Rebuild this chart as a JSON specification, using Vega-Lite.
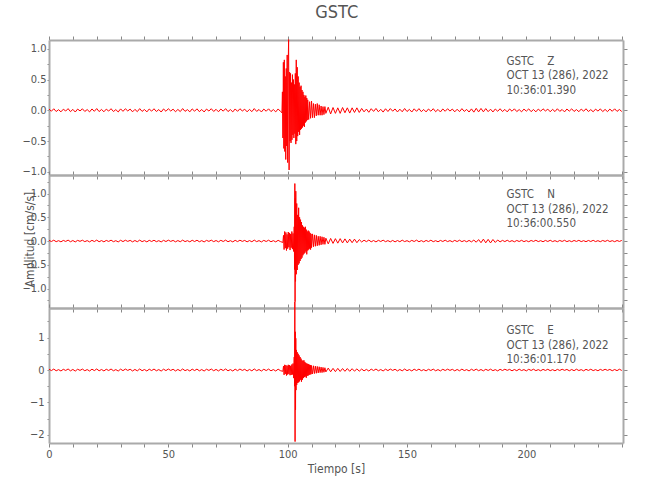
{
"$schema":"https://vega.github.io/schema/vega-lite/v6.json",
"padding":{"left":21,"top":3,"right":5,"bottom":5},
"bounds":"flush",
"spacing":0,
"title":{"text":"GSTC","fontSize":18,"font":"DejaVu Sans Condensed, Liberation Sans Narrow, Liberation Sans, sans-serif","fontWeight":"normal","color":"#555555","anchor":"middle","offset":14,"dx":12},
"config":{"view":{"stroke":null},"font":"DejaVu Sans Condensed, Liberation Sans Narrow, Liberation Sans, sans-serif",
"axis":{"domainColor":"#aaaaaa","domainWidth":2,"tickColor":"#888888","tickWidth":1,"labelColor":"#555555","labelFontSize":11,"labelFont":"DejaVu Sans Condensed, Liberation Sans Narrow, Liberation Sans, sans-serif","grid":false,"titleColor":"#555555","titleFont":"DejaVu Sans Condensed, Liberation Sans Narrow, Liberation Sans, sans-serif","titleFontWeight":"normal","titleFontSize":12,"labelOverlap":false,"labelFlush":false}},
"datasets":{
"z":[{"t":0,"a":0.02},{"t":1,"a":-0.015},{"t":2,"a":0.025},{"t":3,"a":-0.02},{"t":4,"a":0.01},{"t":5,"a":-0.025},{"t":6,"a":0.018},{"t":7,"a":-0.012},{"t":8,"a":0.027},{"t":9,"a":-0.022},{"t":10,"a":0.015},{"t":11,"a":-0.028},{"t":12,"a":0.02},{"t":13,"a":-0.01},{"t":14,"a":0.024},{"t":15,"a":-0.019},{"t":16,"a":0.012},{"t":17,"a":-0.026},{"t":18,"a":0.022},{"t":19,"a":-0.016},{"t":20,"a":0.028},{"t":21,"a":-0.021},{"t":22,"a":0.014},{"t":23,"a":-0.024},{"t":24,"a":0.019},{"t":25,"a":-0.013},{"t":26,"a":0.026},{"t":27,"a":-0.02},{"t":28,"a":0.011},{"t":29,"a":-0.027},{"t":30,"a":0.023},{"t":31,"a":-0.017},{"t":32,"a":0.025},{"t":33,"a":-0.011},{"t":34,"a":0.02},{"t":35,"a":-0.025},{"t":36,"a":0.015},{"t":37,"a":-0.022},{"t":38,"a":0.027},{"t":39,"a":-0.018},{"t":40,"a":0.013},{"t":41,"a":-0.026},{"t":42,"a":0.021},{"t":43,"a":-0.014},{"t":44,"a":0.025},{"t":45,"a":-0.02},{"t":46,"a":0.012},{"t":47,"a":-0.028},{"t":48,"a":0.022},{"t":49,"a":-0.016},{"t":50,"a":0.026},{"t":51,"a":-0.012},{"t":52,"a":0.019},{"t":53,"a":-0.024},{"t":54,"a":0.014},{"t":55,"a":-0.021},{"t":56,"a":0.028},{"t":57,"a":-0.017},{"t":58,"a":0.011},{"t":59,"a":-0.025},{"t":60,"a":0.023},{"t":61,"a":-0.015},{"t":62,"a":0.024},{"t":63,"a":-0.022},{"t":64,"a":0.013},{"t":65,"a":-0.027},{"t":66,"a":0.02},{"t":67,"a":-0.012},{"t":68,"a":0.026},{"t":69,"a":-0.019},{"t":70,"a":0.016},{"t":71,"a":-0.024},{"t":72,"a":0.021},{"t":73,"a":-0.014},{"t":74,"a":0.027},{"t":75,"a":-0.021},{"t":76,"a":0.012},{"t":77,"a":-0.026},{"t":78,"a":0.022},{"t":79,"a":-0.017},{"t":80,"a":0.025},{"t":81,"a":-0.011},{"t":82,"a":0.018},{"t":83,"a":-0.025},{"t":84,"a":0.015},{"t":85,"a":-0.022},{"t":86,"a":0.028},{"t":87,"a":-0.018},{"t":88,"a":0.013},{"t":89,"a":-0.027},{"t":90,"a":0.02},{"t":91,"a":-0.015},{"t":92,"a":0.024},{"t":93,"a":-0.021},{"t":94,"a":0.012},{"t":95,"a":-0.026},{"t":96,"a":0.022},{"t":97,"a":-0.018},
{"t":97.6,"a":-0.04},{"t":97.8,"a":0.3},{"t":98.0,"a":-0.45},{"t":98.2,"a":0.78},{"t":98.4,"a":-0.62},{"t":98.6,"a":0.82},{"t":98.8,"a":-0.67},{"t":99.0,"a":0.55},{"t":99.2,"a":-0.8},{"t":99.4,"a":0.68},{"t":99.6,"a":-0.58},{"t":99.8,"a":0.9},{"t":100.0,"a":-0.85},{"t":100.2,"a":0.7},{"t":100.4,"a":1.15},{"t":100.6,"a":-0.97},{"t":100.8,"a":0.62},{"t":101.0,"a":-0.5},{"t":101.2,"a":0.6},{"t":101.4,"a":-0.53},{"t":101.6,"a":0.45},{"t":101.8,"a":-0.48},{"t":102.0,"a":0.58},{"t":102.2,"a":-0.4},{"t":102.4,"a":0.5},{"t":102.6,"a":-0.45},{"t":102.8,"a":0.42},{"t":103.0,"a":-0.38},{"t":103.2,"a":0.6},{"t":103.4,"a":-0.55},{"t":103.6,"a":0.82},{"t":103.8,"a":-0.5},{"t":104.0,"a":0.7},{"t":104.2,"a":-0.42},{"t":104.4,"a":0.55},{"t":104.6,"a":-0.35},{"t":104.8,"a":0.45},{"t":105.0,"a":-0.4},{"t":105.2,"a":0.38},{"t":105.4,"a":-0.32},{"t":105.6,"a":0.4},{"t":105.8,"a":-0.3},{"t":106.0,"a":0.33},{"t":106.2,"a":-0.28},{"t":106.4,"a":0.3},{"t":106.6,"a":-0.25},{"t":106.8,"a":0.25},{"t":107.0,"a":-0.27},{"t":107.2,"a":0.22},{"t":107.4,"a":-0.2},{"t":107.6,"a":0.24},{"t":107.8,"a":-0.18},{"t":108.0,"a":0.2},{"t":108.2,"a":-0.16},{"t":108.4,"a":0.17},{"t":108.8,"a":-0.15},{"t":109.2,"a":0.14},{"t":109.6,"a":-0.13},{"t":110.0,"a":0.15},{"t":110.4,"a":-0.12},{"t":110.8,"a":0.11},{"t":111.2,"a":-0.12},{"t":111.6,"a":0.1},{"t":112.0,"a":-0.09},{"t":112.4,"a":0.11},{"t":112.8,"a":-0.08},{"t":113.2,"a":0.09},{"t":113.6,"a":-0.08},{"t":114.0,"a":0.07},{"t":114.4,"a":-0.08},{"t":114.8,"a":0.06},{"t":115.2,"a":-0.07},{"t":115.6,"a":0.06},{"t":116.0,"a":-0.05},
{"t":117,"a":0.05},{"t":118,"a":-0.06},{"t":119,"a":0.045},{"t":120,"a":-0.05},{"t":121,"a":0.04},{"t":122,"a":-0.05},{"t":123,"a":0.045},{"t":124,"a":-0.04},{"t":125,"a":0.04},{"t":126,"a":-0.045},{"t":127,"a":0.04},{"t":128,"a":-0.035},{"t":129,"a":0.04},{"t":130,"a":-0.035},
{"t":131,"a":0.03},{"t":132,"a":-0.025},{"t":133,"a":0.02},{"t":134,"a":-0.032},{"t":135,"a":0.026},{"t":136,"a":-0.018},{"t":137,"a":0.03},{"t":138,"a":-0.024},{"t":139,"a":0.016},{"t":140,"a":-0.029},{"t":141,"a":0.025},{"t":142,"a":-0.02},{"t":143,"a":0.028},{"t":144,"a":-0.014},{"t":145,"a":0.022},{"t":146,"a":-0.027},{"t":147,"a":0.018},{"t":148,"a":-0.024},{"t":149,"a":0.029},{"t":150,"a":-0.02},{"t":151,"a":0.015},{"t":152,"a":-0.028},{"t":153,"a":0.024},{"t":154,"a":-0.017},{"t":155,"a":0.027},{"t":156,"a":-0.022},{"t":157,"a":0.013},{"t":158,"a":-0.026},{"t":159,"a":0.021},{"t":160,"a":-0.015},{"t":161,"a":0.026},{"t":162,"a":-0.023},{"t":163,"a":0.014},{"t":164,"a":-0.027},{"t":165,"a":0.022},{"t":166,"a":-0.016},{"t":167,"a":0.025},{"t":168,"a":-0.012},{"t":169,"a":0.02},{"t":170,"a":-0.025},{"t":171,"a":0.017},{"t":172,"a":-0.022},{"t":173,"a":0.027},{"t":174,"a":-0.018},{"t":175,"a":0.014},{"t":176,"a":-0.028},{"t":177,"a":0.023},{"t":178,"a":-0.03},{"t":179,"a":0.032},{"t":180,"a":-0.026},{"t":181,"a":0.03},{"t":182,"a":-0.025},{"t":183,"a":0.028},{"t":184,"a":-0.022},{"t":185,"a":0.018},{"t":186,"a":-0.027},{"t":187,"a":0.021},{"t":188,"a":-0.016},{"t":189,"a":0.025},{"t":190,"a":-0.02},{"t":191,"a":0.014},{"t":192,"a":-0.026},{"t":193,"a":0.022},{"t":194,"a":-0.015},{"t":195,"a":0.024},{"t":196,"a":-0.021},{"t":197,"a":0.012},{"t":198,"a":-0.025},{"t":199,"a":0.02},{"t":200,"a":-0.014},{"t":201,"a":0.023},{"t":202,"a":-0.022},{"t":203,"a":0.013},{"t":204,"a":-0.025},{"t":205,"a":0.02},{"t":206,"a":-0.015},{"t":207,"a":0.024},{"t":208,"a":-0.011},{"t":209,"a":0.019},{"t":210,"a":-0.024},{"t":211,"a":0.016},{"t":212,"a":-0.021},{"t":213,"a":0.025},{"t":214,"a":-0.017},{"t":215,"a":0.013},{"t":216,"a":-0.026},{"t":217,"a":0.021},{"t":218,"a":-0.014},{"t":219,"a":0.024},{"t":220,"a":-0.019},{"t":221,"a":0.012},{"t":222,"a":-0.023},{"t":223,"a":0.02},{"t":224,"a":-0.015},{"t":225,"a":0.025},{"t":226,"a":-0.02},{"t":227,"a":0.011},{"t":228,"a":-0.024},{"t":229,"a":0.019},{"t":230,"a":-0.013},{"t":231,"a":0.023},{"t":232,"a":-0.021},{"t":233,"a":0.014},{"t":234,"a":-0.022},{"t":235,"a":0.02},{"t":236,"a":-0.016},{"t":237,"a":0.024},{"t":238,"a":-0.018},{"t":239,"a":0.013},{"t":240,"a":-0.02}],
"n":[{"t":0,"a":0.014},{"t":1,"a":-0.01},{"t":2,"a":0.018},{"t":3,"a":-0.014},{"t":4,"a":0.008},{"t":5,"a":-0.017},{"t":6,"a":0.013},{"t":7,"a":-0.009},{"t":8,"a":0.019},{"t":9,"a":-0.015},{"t":10,"a":0.011},{"t":11,"a":-0.019},{"t":12,"a":0.014},{"t":13,"a":-0.007},{"t":14,"a":0.017},{"t":15,"a":-0.013},{"t":16,"a":0.009},{"t":17,"a":-0.018},{"t":18,"a":0.015},{"t":19,"a":-0.011},{"t":20,"a":0.019},{"t":21,"a":-0.015},{"t":22,"a":0.01},{"t":23,"a":-0.017},{"t":24,"a":0.013},{"t":25,"a":-0.009},{"t":26,"a":0.018},{"t":27,"a":-0.014},{"t":28,"a":0.008},{"t":29,"a":-0.019},{"t":30,"a":0.016},{"t":31,"a":-0.012},{"t":32,"a":0.017},{"t":33,"a":-0.008},{"t":34,"a":0.014},{"t":35,"a":-0.017},{"t":36,"a":0.011},{"t":37,"a":-0.015},{"t":38,"a":0.019},{"t":39,"a":-0.013},{"t":40,"a":0.009},{"t":41,"a":-0.018},{"t":42,"a":0.015},{"t":43,"a":-0.01},{"t":44,"a":0.017},{"t":45,"a":-0.014},{"t":46,"a":0.008},{"t":47,"a":-0.019},{"t":48,"a":0.015},{"t":49,"a":-0.011},{"t":50,"a":0.018},{"t":51,"a":-0.008},{"t":52,"a":0.013},{"t":53,"a":-0.017},{"t":54,"a":0.01},{"t":55,"a":-0.015},{"t":56,"a":0.019},{"t":57,"a":-0.012},{"t":58,"a":0.008},{"t":59,"a":-0.017},{"t":60,"a":0.016},{"t":61,"a":-0.011},{"t":62,"a":0.017},{"t":63,"a":-0.015},{"t":64,"a":0.009},{"t":65,"a":-0.019},{"t":66,"a":0.014},{"t":67,"a":-0.008},{"t":68,"a":0.018},{"t":69,"a":-0.013},{"t":70,"a":0.011},{"t":71,"a":-0.017},{"t":72,"a":0.015},{"t":73,"a":-0.01},{"t":74,"a":0.019},{"t":75,"a":-0.015},{"t":76,"a":0.008},{"t":77,"a":-0.018},{"t":78,"a":0.015},{"t":79,"a":-0.012},{"t":80,"a":0.017},{"t":81,"a":-0.008},{"t":82,"a":0.013},{"t":83,"a":-0.017},{"t":84,"a":0.01},{"t":85,"a":-0.015},{"t":86,"a":0.019},{"t":87,"a":-0.013},{"t":88,"a":0.009},{"t":89,"a":-0.019},{"t":90,"a":0.014},{"t":91,"a":-0.01},{"t":92,"a":0.017},{"t":93,"a":-0.015},{"t":94,"a":0.008},{"t":95,"a":-0.018},{"t":96,"a":0.015},{"t":97,"a":-0.012},
{"t":98.0,"a":-0.03},{"t":98.25,"a":0.12},{"t":98.5,"a":-0.18},{"t":98.75,"a":0.2},{"t":99.0,"a":-0.15},{"t":99.25,"a":0.18},{"t":99.5,"a":-0.2},{"t":99.75,"a":0.14},{"t":100.0,"a":-0.16},{"t":100.25,"a":0.19},{"t":100.5,"a":-0.13},{"t":100.75,"a":0.17},{"t":101.0,"a":-0.19},{"t":101.25,"a":0.15},{"t":101.5,"a":-0.14},{"t":101.75,"a":0.2},{"t":102.0,"a":-0.17},{"t":102.25,"a":0.16},{"t":102.5,"a":-0.22},{"t":102.75,"a":0.3},
{"t":102.9,"a":-0.6},{"t":103.0,"a":1.21},{"t":103.1,"a":-1.28},{"t":103.2,"a":0.9},{"t":103.3,"a":-0.85},{"t":103.4,"a":1.05},{"t":103.6,"a":-0.7},{"t":103.8,"a":0.79},{"t":104.0,"a":-0.61},{"t":104.2,"a":0.55},{"t":104.4,"a":-0.5},{"t":104.6,"a":0.7},{"t":104.8,"a":-0.47},{"t":105.0,"a":0.5},{"t":105.2,"a":-0.42},{"t":105.4,"a":0.45},{"t":105.6,"a":-0.38},{"t":105.8,"a":0.4},{"t":106.0,"a":-0.35},{"t":106.2,"a":0.33},{"t":106.4,"a":-0.3},{"t":106.6,"a":0.3},{"t":106.8,"a":-0.27},{"t":107.0,"a":0.28},{"t":107.2,"a":-0.25},{"t":107.4,"a":0.3},{"t":107.6,"a":-0.22},{"t":107.8,"a":0.24},{"t":108.0,"a":-0.28},{"t":108.2,"a":0.2},{"t":108.4,"a":-0.2},{"t":108.6,"a":0.22},{"t":108.8,"a":-0.18},{"t":109.0,"a":0.2},{"t":109.2,"a":-0.16},{"t":109.4,"a":0.17},{"t":109.6,"a":-0.18},{"t":109.8,"a":0.15},{"t":110.0,"a":-0.14},{"t":110.4,"a":0.15},{"t":110.8,"a":-0.12},{"t":111.2,"a":0.13},{"t":111.6,"a":-0.11},{"t":112.0,"a":0.12},{"t":112.4,"a":-0.1},{"t":112.8,"a":0.1},{"t":113.2,"a":-0.09},{"t":113.6,"a":0.1},{"t":114.0,"a":-0.08},{"t":114.4,"a":0.09},{"t":114.8,"a":-0.07},{"t":115.2,"a":0.08},{"t":115.6,"a":-0.07},{"t":116.0,"a":0.06},
{"t":117,"a":-0.06},{"t":118,"a":0.055},{"t":119,"a":-0.05},{"t":120,"a":0.05},{"t":121,"a":-0.045},{"t":122,"a":0.05},{"t":123,"a":-0.04},{"t":124,"a":0.045},{"t":125,"a":-0.04},{"t":126,"a":0.04},{"t":127,"a":-0.035},{"t":128,"a":0.04},{"t":129,"a":-0.035},{"t":130,"a":0.03},
{"t":131,"a":-0.02},{"t":132,"a":0.017},{"t":133,"a":-0.013},{"t":134,"a":0.02},{"t":135,"a":-0.016},{"t":136,"a":0.011},{"t":137,"a":-0.019},{"t":138,"a":0.015},{"t":139,"a":-0.01},{"t":140,"a":0.018},{"t":141,"a":-0.014},{"t":142,"a":0.009},{"t":143,"a":-0.017},{"t":144,"a":0.013},{"t":145,"a":-0.018},{"t":146,"a":0.011},{"t":147,"a":-0.015},{"t":148,"a":0.018},{"t":149,"a":-0.012},{"t":150,"a":0.008},{"t":151,"a":-0.017},{"t":152,"a":0.014},{"t":153,"a":-0.01},{"t":154,"a":0.018},{"t":155,"a":-0.015},{"t":156,"a":0.009},{"t":157,"a":-0.017},{"t":158,"a":0.013},{"t":159,"a":-0.011},{"t":160,"a":0.017},{"t":161,"a":-0.014},{"t":162,"a":0.008},{"t":163,"a":-0.016},{"t":164,"a":0.013},{"t":165,"a":-0.01},{"t":166,"a":0.017},{"t":167,"a":-0.012},{"t":168,"a":0.009},{"t":169,"a":-0.016},{"t":170,"a":0.014},{"t":171,"a":-0.011},{"t":172,"a":0.017},{"t":173,"a":-0.013},{"t":174,"a":0.01},{"t":175,"a":-0.016},{"t":176,"a":0.013},{"t":177,"a":-0.018},{"t":178,"a":0.02},{"t":179,"a":-0.025},{"t":180,"a":0.03},{"t":181,"a":-0.035},{"t":182,"a":0.04},{"t":183,"a":-0.038},{"t":184,"a":0.035},{"t":185,"a":-0.04},{"t":186,"a":0.032},{"t":187,"a":-0.03},{"t":188,"a":0.022},{"t":189,"a":-0.018},{"t":190,"a":0.014},{"t":191,"a":-0.012},{"t":192,"a":0.016},{"t":193,"a":-0.013},{"t":194,"a":0.009},{"t":195,"a":-0.016},{"t":196,"a":0.012},{"t":197,"a":-0.01},{"t":198,"a":0.015},{"t":199,"a":-0.013},{"t":200,"a":0.008},{"t":201,"a":-0.015},{"t":202,"a":0.012},{"t":203,"a":-0.009},{"t":204,"a":0.016},{"t":205,"a":-0.012},{"t":206,"a":0.008},{"t":207,"a":-0.015},{"t":208,"a":0.013},{"t":209,"a":-0.01},{"t":210,"a":0.016},{"t":211,"a":-0.012},{"t":212,"a":0.008},{"t":213,"a":-0.015},{"t":214,"a":0.012},{"t":215,"a":-0.009},{"t":216,"a":0.015},{"t":217,"a":-0.013},{"t":218,"a":0.008},{"t":219,"a":-0.014},{"t":220,"a":0.012},{"t":221,"a":-0.009},{"t":222,"a":0.015},{"t":223,"a":-0.012},{"t":224,"a":0.008},{"t":225,"a":-0.014},{"t":226,"a":0.012},{"t":227,"a":-0.01},{"t":228,"a":0.015},{"t":229,"a":-0.012},{"t":230,"a":0.008},{"t":231,"a":-0.014},{"t":232,"a":0.012},{"t":233,"a":-0.009},{"t":234,"a":0.015},{"t":235,"a":-0.011},{"t":236,"a":0.008},{"t":237,"a":-0.014},{"t":238,"a":0.011},{"t":239,"a":-0.009},{"t":240,"a":0.013}],
"e":[{"t":0,"a":0.025},{"t":1,"a":-0.018},{"t":2,"a":0.03},{"t":3,"a":-0.024},{"t":4,"a":0.012},{"t":5,"a":-0.03},{"t":6,"a":0.022},{"t":7,"a":-0.015},{"t":8,"a":0.032},{"t":9,"a":-0.026},{"t":10,"a":0.018},{"t":11,"a":-0.033},{"t":12,"a":0.024},{"t":13,"a":-0.012},{"t":14,"a":0.029},{"t":15,"a":-0.023},{"t":16,"a":0.014},{"t":17,"a":-0.031},{"t":18,"a":0.026},{"t":19,"a":-0.019},{"t":20,"a":0.033},{"t":21,"a":-0.025},{"t":22,"a":0.017},{"t":23,"a":-0.029},{"t":24,"a":0.023},{"t":25,"a":-0.016},{"t":26,"a":0.031},{"t":27,"a":-0.024},{"t":28,"a":0.013},{"t":29,"a":-0.032},{"t":30,"a":0.027},{"t":31,"a":-0.02},{"t":32,"a":0.03},{"t":33,"a":-0.013},{"t":34,"a":0.024},{"t":35,"a":-0.03},{"t":36,"a":0.018},{"t":37,"a":-0.026},{"t":38,"a":0.032},{"t":39,"a":-0.021},{"t":40,"a":0.016},{"t":41,"a":-0.031},{"t":42,"a":0.025},{"t":43,"a":-0.017},{"t":44,"a":0.03},{"t":45,"a":-0.024},{"t":46,"a":0.014},{"t":47,"a":-0.033},{"t":48,"a":0.026},{"t":49,"a":-0.019},{"t":50,"a":0.031},{"t":51,"a":-0.014},{"t":52,"a":0.023},{"t":53,"a":-0.029},{"t":54,"a":0.017},{"t":55,"a":-0.025},{"t":56,"a":0.033},{"t":57,"a":-0.02},{"t":58,"a":0.013},{"t":59,"a":-0.03},{"t":60,"a":0.027},{"t":61,"a":-0.018},{"t":62,"a":0.029},{"t":63,"a":-0.026},{"t":64,"a":0.015},{"t":65,"a":-0.032},{"t":66,"a":0.024},{"t":67,"a":-0.014},{"t":68,"a":0.031},{"t":69,"a":-0.023},{"t":70,"a":0.019},{"t":71,"a":-0.029},{"t":72,"a":0.025},{"t":73,"a":-0.017},{"t":74,"a":0.032},{"t":75,"a":-0.025},{"t":76,"a":0.014},{"t":77,"a":-0.031},{"t":78,"a":0.026},{"t":79,"a":-0.02},{"t":80,"a":0.03},{"t":81,"a":-0.013},{"t":82,"a":0.022},{"t":83,"a":-0.03},{"t":84,"a":0.018},{"t":85,"a":-0.026},{"t":86,"a":0.033},{"t":87,"a":-0.021},{"t":88,"a":0.015},{"t":89,"a":-0.032},{"t":90,"a":0.024},{"t":91,"a":-0.018},{"t":92,"a":0.029},{"t":93,"a":-0.025},{"t":94,"a":0.014},{"t":95,"a":-0.031},{"t":96,"a":0.026},{"t":97,"a":-0.021},
{"t":98.0,"a":-0.04},{"t":98.25,"a":0.12},{"t":98.5,"a":-0.15},{"t":98.75,"a":0.16},{"t":99.0,"a":-0.12},{"t":99.25,"a":0.15},{"t":99.5,"a":-0.17},{"t":99.75,"a":0.13},{"t":100.0,"a":-0.14},{"t":100.25,"a":0.16},{"t":100.5,"a":-0.12},{"t":100.75,"a":0.15},{"t":101.0,"a":-0.16},{"t":101.25,"a":0.13},{"t":101.5,"a":-0.15},{"t":101.75,"a":0.17},{"t":102.0,"a":-0.14},{"t":102.25,"a":0.2},{"t":102.5,"a":-0.25},{"t":102.75,"a":0.4},
{"t":102.9,"a":-0.5},{"t":103.0,"a":2.1},{"t":103.1,"a":-2.21},{"t":103.2,"a":1.18},{"t":103.3,"a":-1.23},{"t":103.4,"a":0.98},{"t":103.5,"a":-0.62},{"t":103.6,"a":0.62},{"t":103.8,"a":-0.46},{"t":104.0,"a":0.55},{"t":104.2,"a":-0.4},{"t":104.4,"a":0.5},{"t":104.6,"a":-0.38},{"t":104.8,"a":0.45},{"t":105.0,"a":-0.35},{"t":105.2,"a":0.4},{"t":105.4,"a":-0.3},{"t":105.6,"a":0.35},{"t":105.8,"a":-0.36},{"t":106.0,"a":0.3},{"t":106.2,"a":-0.3},{"t":106.4,"a":0.28},{"t":106.6,"a":-0.25},{"t":106.8,"a":0.3},{"t":107.0,"a":-0.22},{"t":107.2,"a":0.25},{"t":107.4,"a":-0.2},{"t":107.6,"a":0.22},{"t":107.8,"a":-0.24},{"t":108.0,"a":0.2},{"t":108.2,"a":-0.18},{"t":108.4,"a":0.19},{"t":108.6,"a":-0.17},{"t":108.8,"a":0.18},{"t":109.0,"a":-0.15},{"t":109.2,"a":0.16},{"t":109.4,"a":-0.14},{"t":109.6,"a":0.15},{"t":109.8,"a":-0.13},{"t":110.0,"a":0.14},{"t":110.4,"a":-0.12},{"t":110.8,"a":0.13},{"t":111.2,"a":-0.11},{"t":111.6,"a":0.12},{"t":112.0,"a":-0.1},{"t":112.4,"a":0.11},{"t":112.8,"a":-0.09},{"t":113.2,"a":0.1},{"t":113.6,"a":-0.08},{"t":114.0,"a":0.09},{"t":114.4,"a":-0.08},{"t":114.8,"a":0.08},{"t":115.2,"a":-0.07},{"t":115.6,"a":0.07},{"t":116.0,"a":-0.06},
{"t":117,"a":0.06},{"t":118,"a":-0.055},{"t":119,"a":0.05},{"t":120,"a":-0.05},{"t":121,"a":0.05},{"t":122,"a":-0.045},{"t":123,"a":0.045},{"t":124,"a":-0.04},{"t":125,"a":0.045},{"t":126,"a":-0.04},{"t":127,"a":0.04},{"t":128,"a":-0.035},{"t":129,"a":0.035},{"t":130,"a":-0.035},
{"t":131,"a":0.03},{"t":132,"a":-0.026},{"t":133,"a":0.02},{"t":134,"a":-0.032},{"t":135,"a":0.027},{"t":136,"a":-0.017},{"t":137,"a":0.031},{"t":138,"a":-0.024},{"t":139,"a":0.015},{"t":140,"a":-0.03},{"t":141,"a":0.026},{"t":142,"a":-0.019},{"t":143,"a":0.029},{"t":144,"a":-0.013},{"t":145,"a":0.023},{"t":146,"a":-0.028},{"t":147,"a":0.017},{"t":148,"a":-0.025},{"t":149,"a":0.03},{"t":150,"a":-0.02},{"t":151,"a":0.014},{"t":152,"a":-0.029},{"t":153,"a":0.025},{"t":154,"a":-0.016},{"t":155,"a":0.028},{"t":156,"a":-0.022},{"t":157,"a":0.012},{"t":158,"a":-0.027},{"t":159,"a":0.022},{"t":160,"a":-0.015},{"t":161,"a":0.027},{"t":162,"a":-0.024},{"t":163,"a":0.013},{"t":164,"a":-0.028},{"t":165,"a":0.023},{"t":166,"a":-0.016},{"t":167,"a":0.026},{"t":168,"a":-0.012},{"t":169,"a":0.021},{"t":170,"a":-0.026},{"t":171,"a":0.017},{"t":172,"a":-0.023},{"t":173,"a":0.028},{"t":174,"a":-0.018},{"t":175,"a":0.013},{"t":176,"a":-0.029},{"t":177,"a":0.024},{"t":178,"a":-0.017},{"t":179,"a":0.027},{"t":180,"a":-0.021},{"t":181,"a":0.015},{"t":182,"a":-0.026},{"t":183,"a":0.022},{"t":184,"a":-0.015},{"t":185,"a":0.026},{"t":186,"a":-0.02},{"t":187,"a":0.012},{"t":188,"a":-0.027},{"t":189,"a":0.022},{"t":190,"a":-0.016},{"t":191,"a":0.024},{"t":192,"a":-0.011},{"t":193,"a":0.02},{"t":194,"a":-0.025},{"t":195,"a":0.016},{"t":196,"a":-0.022},{"t":197,"a":0.026},{"t":198,"a":-0.017},{"t":199,"a":0.013},{"t":200,"a":-0.027},{"t":201,"a":0.022},{"t":202,"a":-0.014},{"t":203,"a":0.025},{"t":204,"a":-0.02},{"t":205,"a":0.012},{"t":206,"a":-0.024},{"t":207,"a":0.02},{"t":208,"a":-0.014},{"t":209,"a":0.023},{"t":210,"a":-0.021},{"t":211,"a":0.012},{"t":212,"a":-0.025},{"t":213,"a":0.02},{"t":214,"a":-0.015},{"t":215,"a":0.024},{"t":216,"a":-0.011},{"t":217,"a":0.019},{"t":218,"a":-0.024},{"t":219,"a":0.016},{"t":220,"a":-0.021},{"t":221,"a":0.025},{"t":222,"a":-0.017},{"t":223,"a":0.012},{"t":224,"a":-0.026},{"t":225,"a":0.021},{"t":226,"a":-0.014},{"t":227,"a":0.024},{"t":228,"a":-0.019},{"t":229,"a":0.012},{"t":230,"a":-0.023},{"t":231,"a":0.02},{"t":232,"a":-0.015},{"t":233,"a":0.023},{"t":234,"a":-0.012},{"t":235,"a":0.019},{"t":236,"a":-0.022},{"t":237,"a":0.016},{"t":238,"a":-0.02},{"t":239,"a":0.024},{"t":240,"a":-0.015}]
},
"vconcat":[
{"width":574,"height":135,
"layer":[
{"data":{"name":"z"},"mark":{"type":"line","color":"#ff0000","strokeWidth":1},
"encoding":{
"x":{"field":"t","type":"quantitative","scale":{"domain":[0,240.5],"nice":false,"zero":false},"axis":{"orient":"bottom","values":[0,10,20,30,40,50,60,70,80,90,100,110,120,130,140,150,160,170,180,190,200,210,220,230,240],"labels":false,"title":null,"tickSize":4,"encode":{"ticks":{"update":{"y2":{"signal":"datum.value % 50 === 0 ? -8 : -5"}}}}}},
"y":{"field":"a","type":"quantitative","scale":{"domain":[-1.052,1.143],"nice":false,"zero":false},"axis":{"orient":"left","values":[-1,-0.75,-0.5,-0.25,0,0.25,0.5,0.75,1],"format":".1f","labelExpr":"datum.value % 0.5 === 0 ? datum.label : ''","tickSize":2,"labelPadding":1,"title":null,"encode":{"ticks":{"update":{"x2":{"signal":"datum.value % 0.5 === 0 ? 9 : 5"}}}}}}}},
{"data":{"values":[{}]},"mark":{"type":"text","align":"left","baseline":"middle","fontSize":11.5,"lineHeight":14.5,"color":"#555555"},
"encoding":{
"x":{"datum":191.7,"type":"quantitative","scale":{"domain":[0,240.5],"nice":false,"zero":false},"axis":{"orient":"top","values":[0,10,20,30,40,50,60,70,80,90,100,110,120,130,140,150,160,170,180,190,200,210,220,230,240],"labels":false,"title":null,"tickSize":4,"encode":{"ticks":{"update":{"y2":{"signal":"datum.value % 50 === 0 ? 8 : 5"}}}}}},
"y":{"datum":0.79,"type":"quantitative","scale":{"domain":[-1.052,1.143],"nice":false,"zero":false},"axis":{"orient":"right","values":[-1,-0.75,-0.5,-0.25,0,0.25,0.5,0.75,1],"labels":false,"title":null,"tickSize":4,"encode":{"ticks":{"update":{"x2":{"signal":"datum.value % 0.5 === 0 ? -9 : -5"}}}}}},
"text":{"value":["GSTC\u00a0\u00a0\u00a0\u00a0Z","OCT 13 (286), 2022","10:36:01.390"]}}}
],
"resolve":{"axis":{"x":"independent","y":"independent"}}},
{"width":574,"height":133,
"layer":[
{"data":{"name":"n"},"mark":{"type":"line","color":"#ff0000","strokeWidth":1},
"encoding":{
"x":{"field":"t","type":"quantitative","scale":{"domain":[0,240.5],"nice":false,"zero":false},"axis":{"orient":"bottom","values":[0,10,20,30,40,50,60,70,80,90,100,110,120,130,140,150,160,170,180,190,200,210,220,230,240],"labels":false,"title":null,"tickSize":4,"encode":{"ticks":{"update":{"y2":{"signal":"datum.value % 50 === 0 ? -8 : -5"}}}}}},
"y":{"field":"a","type":"quantitative","scale":{"domain":[-1.41,1.39],"nice":false,"zero":false},"axis":{"orient":"left","values":[-1.25,-1,-0.75,-0.5,-0.25,0,0.25,0.5,0.75,1,1.25],"format":".1f","labelExpr":"datum.value % 0.5 === 0 ? datum.label : ''","tickSize":2,"labelPadding":1,"title":"Amplitud [cm/s/s]","titleX":-20,"titleY":64,"titleAngle":-90,"titleAlign":"center","titleBaseline":"middle","encode":{"ticks":{"update":{"x2":{"signal":"datum.value % 0.5 === 0 ? 9 : 5"}}}}}}}},
{"data":{"values":[{}]},"mark":{"type":"text","align":"left","baseline":"middle","fontSize":11.5,"lineHeight":14.5,"color":"#555555"},
"encoding":{
"x":{"datum":191.7,"type":"quantitative","scale":{"domain":[0,240.5],"nice":false,"zero":false},"axis":{"orient":"top","values":[0,10,20,30,40,50,60,70,80,90,100,110,120,130,140,150,160,170,180,190,200,210,220,230,240],"labels":false,"title":null,"tickSize":4,"encode":{"ticks":{"update":{"y2":{"signal":"datum.value % 50 === 0 ? 8 : 5"}}}}}},
"y":{"datum":0.96,"type":"quantitative","scale":{"domain":[-1.41,1.39],"nice":false,"zero":false},"axis":{"orient":"right","values":[-1.25,-1,-0.75,-0.5,-0.25,0,0.25,0.5,0.75,1,1.25],"labels":false,"title":null,"tickSize":4,"encode":{"ticks":{"update":{"x2":{"signal":"datum.value % 0.5 === 0 ? -9 : -5"}}}}}},
"text":{"value":["GSTC\u00a0\u00a0\u00a0\u00a0N","OCT 13 (286), 2022","10:36:00.550"]}}}
],
"resolve":{"axis":{"x":"independent","y":"independent"}}},
{"width":574,"height":135,
"layer":[
{"data":{"name":"e"},"mark":{"type":"line","color":"#ff0000","strokeWidth":1},
"encoding":{
"x":{"field":"t","type":"quantitative","scale":{"domain":[0,240.5],"nice":false,"zero":false},"axis":{"orient":"bottom","values":[0,10,20,30,40,50,60,70,80,90,100,110,120,130,140,150,160,170,180,190,200,210,220,230,240],"format":"d","labelExpr":"datum.value % 50 === 0 ? datum.label : ''","tickSize":4,"labelPadding":1,"title":"Tiempo [s]","titlePadding":4,"encode":{"ticks":{"update":{"y2":{"signal":"datum.value % 50 === 0 ? -8 : -5"}}}}}},
"y":{"field":"a","type":"quantitative","scale":{"domain":[-2.253,1.914],"nice":false,"zero":false},"axis":{"orient":"left","values":[-2,-1.5,-1,-0.5,0,0.5,1,1.5],"format":".0f","labelExpr":"datum.value % 1 === 0 ? datum.label : ''","tickSize":2,"labelPadding":3,"title":null,"encode":{"ticks":{"update":{"x2":{"signal":"datum.value % 1 === 0 ? 9 : 5"}}}}}}}},
{"data":{"values":[{}]},"mark":{"type":"text","align":"left","baseline":"middle","fontSize":11.5,"lineHeight":14.5,"color":"#555555"},
"encoding":{
"x":{"datum":191.7,"type":"quantitative","scale":{"domain":[0,240.5],"nice":false,"zero":false},"axis":{"orient":"top","values":[0,10,20,30,40,50,60,70,80,90,100,110,120,130,140,150,160,170,180,190,200,210,220,230,240],"labels":false,"title":null,"tickSize":4,"encode":{"ticks":{"update":{"y2":{"signal":"datum.value % 50 === 0 ? 8 : 5"}}}}}},
"y":{"datum":1.2,"type":"quantitative","scale":{"domain":[-2.253,1.914],"nice":false,"zero":false},"axis":{"orient":"right","values":[-2,-1.5,-1,-0.5,0,0.5,1,1.5],"labels":false,"title":null,"tickSize":4,"encode":{"ticks":{"update":{"x2":{"signal":"datum.value % 1 === 0 ? -9 : -5"}}}}}},
"text":{"value":["GSTC\u00a0\u00a0\u00a0\u00a0E","OCT 13 (286), 2022","10:36:01.170"]}}}
],
"resolve":{"axis":{"x":"independent","y":"independent"}}}
]
}
